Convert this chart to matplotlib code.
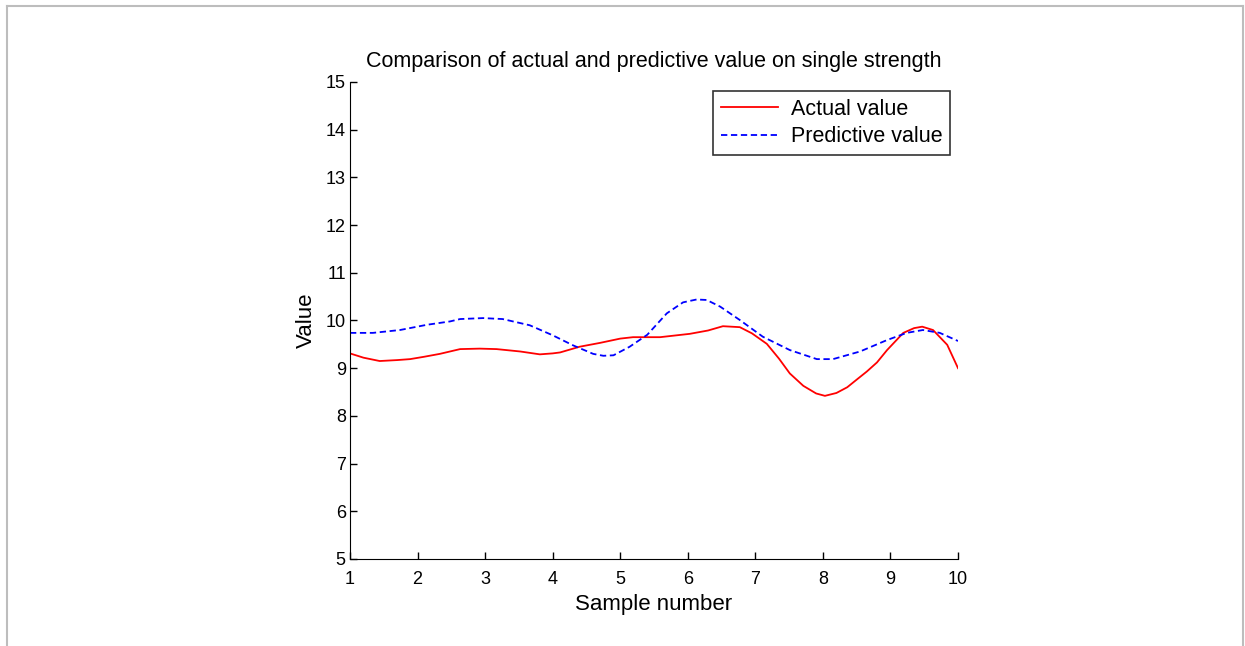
import matplotlib
matplotlib.use("Agg")
import matplotlib.pyplot as plt
from matplotlib.lines import Line2D

plt.rcParams["font.family"] = ["Liberation Sans", "DejaVu Sans"]

# values
actual_x = [1.0, 1.2, 1.44, 1.7, 1.89, 2.1, 2.33, 2.63, 2.92, 3.17, 3.52, 3.81, 4.0, 4.11,
            4.4, 4.7, 5.0, 5.19, 5.59, 6.03, 6.3, 6.52, 6.77, 6.95, 7.17, 7.35, 7.51, 7.71,
            7.9, 8.03, 8.2, 8.36, 8.5, 8.65, 8.8, 8.95, 9.19, 9.35, 9.47, 9.63, 9.84, 10.0]
actual_y = [9.31, 9.22, 9.15, 9.17, 9.19, 9.24, 9.30, 9.40, 9.41, 9.40, 9.35, 9.29, 9.31, 9.33,
            9.45, 9.53, 9.62, 9.65, 9.65, 9.72, 9.79, 9.88, 9.86, 9.73, 9.51, 9.20, 8.89, 8.63,
            8.47, 8.42, 8.48, 8.60, 8.76, 8.93, 9.12, 9.38, 9.74, 9.84, 9.87, 9.80, 9.49, 9.00]

pred_x = [1.0, 1.34, 1.74, 2.14, 2.48, 2.63, 2.97, 3.26, 3.66, 4.0, 4.3, 4.6, 4.75, 4.9,
          5.14, 5.4, 5.69, 5.93, 6.13, 6.28, 6.48, 6.77, 7.11, 7.51, 7.91, 8.15, 8.55,
          8.95, 9.24, 9.48, 9.73, 10.0]
pred_y = [9.74, 9.74, 9.80, 9.91, 9.98, 10.03, 10.05, 10.03, 9.90, 9.69, 9.48, 9.30, 9.26, 9.27,
          9.45, 9.70, 10.15, 10.38, 10.44, 10.43, 10.29, 10.01, 9.66, 9.38, 9.19, 9.19, 9.35,
          9.59, 9.74, 9.80, 9.74, 9.57]

x_ticks = list(range(1, 11))
y_ticks = list(range(5, 16))

fig = plt.figure(figsize=(12.45, 6.46), dpi=100)

# light gray frame around the figure
for xs, ys in [([0.006, 0.006], [0.0, 0.991]), ([0.006, 0.998], [0.991, 0.991]),
               ([0.998, 0.998], [0.0, 0.991])]:
    fig.add_artist(Line2D(xs, ys, color="#bdbdbd", lw=1.5, transform=fig.transFigure))

ax = fig.add_axes([0.2811, 0.1347, 0.4884, 0.7384])
ax.plot(actual_x, actual_y, color="red", lw=1.3, label="Actual value")
ax.plot(pred_x, pred_y, color="blue", lw=1.3, ls=(0, (3.5, 2)), label="Predictive value")

ax.set_xlim(1, 10)
ax.set_ylim(5, 15)
ax.set_xticks(x_ticks)
ax.set_yticks(y_ticks)
ax.spines["top"].set_visible(False)
ax.spines["right"].set_visible(False)
ax.tick_params(direction="in", length=5, labelsize=13, width=1)
ax.tick_params(axis="x", pad=9)
ax.tick_params(axis="y", pad=3)
ax.set_xlabel("Sample number", fontsize=16, labelpad=4)
ax.set_ylabel("Value", fontsize=16, labelpad=6)
ax.set_title("Comparison of actual and predictive value on single strength", fontsize=15.5, pad=11)

leg = ax.legend(loc="upper right", bbox_to_anchor=(0.987, 0.981), fontsize=15.5, frameon=True,
                fancybox=False, edgecolor="black", handlelength=2.65, borderpad=0.36,
                labelspacing=0.3, handletextpad=0.6, borderaxespad=0)
leg.get_frame().set_linewidth(1.2)

fig.savefig("out.png", dpi=100)
